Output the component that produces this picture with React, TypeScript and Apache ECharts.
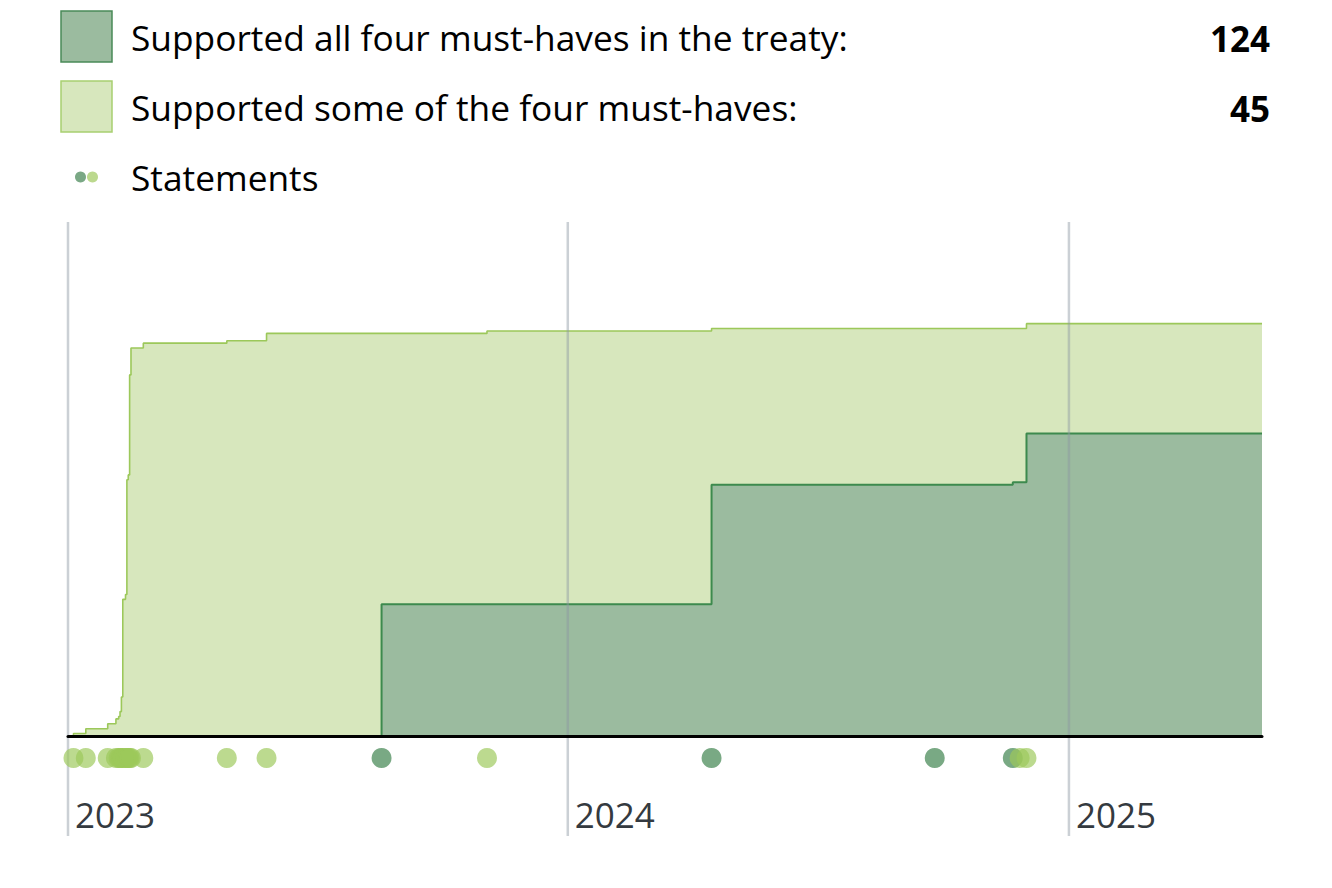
import React, { useEffect, useRef } from 'react';
import * as echarts from 'echarts';

// ---------- data ----------
const X_MIN = '2023-01-01';
const X_MAX = '2025-05-22';

// cumulative count of parties that supported all four must-haves
const allFourDates = ['2023-01-01', '2023-08-18', '2024-04-15', '2024-11-21', '2024-12-01', '2025-05-22'];
const allFourCounts = [0, 54, 103, 104, 124, 124];

// cumulative count of parties that supported at least some of the must-haves (total)
const anySupportDates = [
  '2023-01-01', '2023-01-05', '2023-01-14', '2023-01-30', '2023-02-05', '2023-02-07', '2023-02-08',
  '2023-02-09', '2023-02-10', '2023-02-12', '2023-02-13', '2023-02-14', '2023-02-15', '2023-02-16',
  '2023-02-25', '2023-04-27', '2023-05-26', '2023-11-03', '2024-04-15', '2024-12-01', '2025-05-22',
];
const anySupportCounts = [0, 1, 3, 5, 7, 8, 10, 16, 56, 58, 105, 107, 148, 159, 161, 162, 165, 166, 167, 169, 169];

// statements (dots)
const statementsAllFour = ['2023-08-18', '2024-04-15', '2024-09-25', '2024-11-21'];
const statementsSome = [
  '2023-01-05', '2023-01-14', '2023-01-30', '2023-02-05', '2023-02-07', '2023-02-08', '2023-02-09',
  '2023-02-10', '2023-02-12', '2023-02-13', '2023-02-14', '2023-02-15', '2023-02-16', '2023-02-25',
  '2023-04-27', '2023-05-26', '2023-11-03', '2024-11-26', '2024-12-01',
];

const yearTicks = ['2023-01-01', '2024-01-01', '2025-01-01'];
const yearLabels = ['2023', '2024', '2025'];

const legendLabels = [
  'Supported all four must-haves in the treaty:',
  'Supported some of the four must-haves:',
  'Statements',
];

// ---------- helpers ----------
const t = (s: string) => {
  const [y, m, d] = s.split('-').map(Number);
  return new Date(y, m - 1, d).getTime();
};

const FONT = '"Open Sans", "Noto Sans", sans-serif';

const DARK_LINE = '#3d8a4e';
const DARK_FILL = '#9bbb9f';
const LIGHT_LINE = '#9cc85a';
const LIGHT_FILL = '#d7e7bd';

export default function App() {
  const ref = useRef<HTMLDivElement>(null);

  useEffect(() => {
    if (!ref.current) return;
    const chart = echarts.init(ref.current, undefined, { renderer: 'svg' });

    const totalAll = allFourCounts[allFourCounts.length - 1];
    const totalSome = anySupportCounts[anySupportCounts.length - 1] - totalAll;

    const option: any = {
      animation: false,
      grid: [
        { left: 68, top: 248, width: 1194, height: 488 },
        { left: 68, top: 748, width: 1194, height: 20 },
      ],
      xAxis: [
        {
          type: 'time',
          gridIndex: 0,
          min: t(X_MIN),
          max: t(X_MAX),
          axisLine: { show: true, lineStyle: { color: '#000', width: 3 } },
          axisTick: { show: false },
          axisLabel: { show: false },
          splitLine: { show: false },
          z: 10,
        },
        {
          type: 'time',
          gridIndex: 1,
          min: t(X_MIN),
          max: t(X_MAX),
          show: false,
        },
      ],
      yAxis: [
        { type: 'value', gridIndex: 0, min: 0, max: 200, show: false },
        { type: 'value', gridIndex: 1, min: 0, max: 2, show: false },
      ],
      series: [
        {
          name: 'some',
          type: 'line',
          xAxisIndex: 0,
          yAxisIndex: 0,
          step: 'end',
          symbol: 'none',
          showSymbol: false,
          data: anySupportDates.map((d, i) => [t(d), anySupportCounts[i]]),
          lineStyle: { color: LIGHT_LINE, width: 1.6 },
          areaStyle: { color: LIGHT_FILL, opacity: 1 },
          z: 2,
          silent: true,
        },
        {
          name: 'all',
          type: 'line',
          xAxisIndex: 0,
          yAxisIndex: 0,
          step: 'end',
          symbol: 'none',
          showSymbol: false,
          data: allFourDates.map((d, i) => [t(d), allFourCounts[i]]),
          lineStyle: { color: DARK_LINE, width: 2 },
          areaStyle: { color: DARK_FILL, opacity: 1 },
          z: 3,
          silent: true,
        },
        {
          name: 'years',
          type: 'custom',
          xAxisIndex: 0,
          yAxisIndex: 0,
          z: 4,
          silent: true,
          data: yearTicks.map((d) => [t(d), 0]),
          renderItem: (params: any, api: any) => {
            const x = api.coord([api.value(0), 0])[0];
            return {
              type: 'group',
              children: [
                {
                  type: 'line',
                  shape: { x1: x, y1: 222, x2: x, y2: 836 },
                  style: { stroke: 'rgba(140,150,162,0.45)', lineWidth: 2.5 },
                },
                {
                  type: 'text',
                  x: x + 7,
                  y: 814,
                  style: {
                    text: yearLabels[params.dataIndex],
                    font: `35px ${FONT}`,
                    fill: '#343a40',
                    align: 'left',
                    verticalAlign: 'middle',
                  },
                },
              ],
            };
          },
        },
        {
          name: 'statements all',
          type: 'scatter',
          xAxisIndex: 1,
          yAxisIndex: 1,
          symbolSize: 20,
          data: statementsAllFour.map((d) => [t(d), 1]),
          itemStyle: { color: '#3a8049', opacity: 0.68 },
          z: 5,
          silent: true,
        },
        {
          name: 'statements some',
          type: 'scatter',
          xAxisIndex: 1,
          yAxisIndex: 1,
          symbolSize: 20,
          data: statementsSome.map((d) => [t(d), 1]),
          itemStyle: { color: LIGHT_LINE, opacity: 0.68 },
          z: 6,
          silent: true,
        },
      ],
      graphic: [
        {
          type: 'rect',
          shape: { x: 61, y: 11, width: 51, height: 51 },
          style: { fill: DARK_FILL, stroke: '#4a8a58', lineWidth: 1.5 },
        },
        {
          type: 'rect',
          shape: { x: 61, y: 81, width: 51, height: 51 },
          style: { fill: LIGHT_FILL, stroke: '#a8d070', lineWidth: 1.5 },
        },
        {
          type: 'text',
          x: 131,
          y: 37,
          style: { text: legendLabels[0], font: `35.3px ${FONT}`, fill: '#000', verticalAlign: 'middle' },
        },
        {
          type: 'text',
          x: 131,
          y: 107,
          style: { text: legendLabels[1], font: `35.3px ${FONT}`, fill: '#000', verticalAlign: 'middle' },
        },
        {
          type: 'text',
          x: 131,
          y: 177,
          style: { text: legendLabels[2], font: `35.3px ${FONT}`, fill: '#000', verticalAlign: 'middle' },
        },
        {
          type: 'text',
          x: 1270,
          y: 38,
          style: { text: String(totalAll), font: `bold 35px ${FONT}`, fill: '#000', align: 'right', verticalAlign: 'middle' },
        },
        {
          type: 'text',
          x: 1270,
          y: 108,
          style: { text: String(totalSome), font: `bold 35px ${FONT}`, fill: '#000', align: 'right', verticalAlign: 'middle' },
        },
        { type: 'circle', shape: { cx: 80.5, cy: 177, r: 5.5 }, style: { fill: '#7aa885' } },
        { type: 'circle', shape: { cx: 92.5, cy: 177, r: 5.5 }, style: { fill: '#bcd98e' } },
      ],
    };

    chart.setOption(option);
    return () => chart.dispose();
  }, []);

  return (
    <div
      ref={ref}
      style={{ position: 'absolute', left: 0, top: 0, width: 1332, height: 888, background: '#fff' }}
    />
  );
}
